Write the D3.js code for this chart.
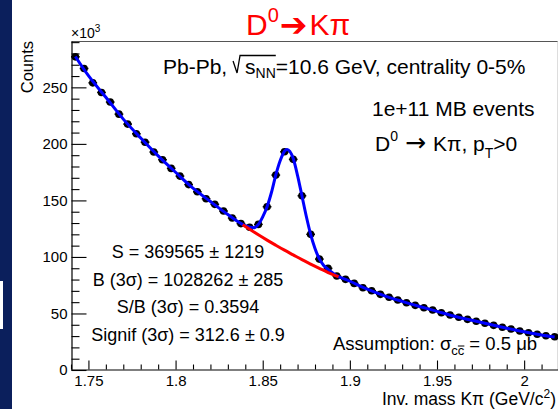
<!DOCTYPE html>
<html><head><meta charset="utf-8">
<script src="https://cdn.jsdelivr.net/npm/d3@7/dist/d3.min.js"></script>
<style>
body{margin:0;background:#fff;}
svg{display:block;}
text{font-family:"Liberation Sans", Arial, Helvetica, sans-serif;white-space:pre;}
</style>
</head><body>
<svg id="c" width="558" height="409"></svg>
<script>
// ---------- data (counts in units of 10^3) ----------
const massBins = [1.7425,1.7475,1.7525,1.7575,1.7625,1.7675,1.7725,1.7775,1.7825,1.7875,
  1.7925,1.7975,1.8025,1.8075,1.8125,1.8175,1.8225,1.8275,1.8325,1.8375,
  1.8425,1.8475,1.8525,1.8575,1.8625,1.8675,1.8725,1.8775,1.8825,1.8875,
  1.8925,1.8975,1.9025,1.9075,1.9125,1.9175,1.9225,1.9275,1.9325,1.9375,
  1.9425,1.9475,1.9525,1.9575,1.9625,1.9675,1.9725,1.9775,1.9825,1.9875,
  1.9925,1.9975,2.0025,2.0075,2.0125,2.0175];
const counts = [277.0,266.7,254.0,245.5,237.0,226.3,217.5,208.9,201.5,192.8,
  186.0,178.3,171.5,164.0,157.6,151.5,146.5,140.6,134.4,129.5,
  126.2,128.8,144.4,172.4,193.0,186.3,154.1,120.0,98.1,89.9,
  83.1,80.2,76.6,72.8,70.1,66.9,64.3,61.9,59.5,57.2,
  55.1,53.1,50.7,48.6,46.6,44.8,43.1,41.3,39.5,37.8,
  36.3,34.5,33.0,31.6,30.3,29.4];
// total fit (blue)
const fitMass = [1.7425,1.75,1.76,1.77,1.78,1.79,1.80,1.81,1.82,1.83,1.835,1.84,1.845,1.8475,1.85,1.8525,1.855,1.8575,1.86,1.8625,1.864,1.8675,1.87,1.8725,1.875,1.8775,1.88,1.8825,1.885,1.8875,1.89,1.8925,1.8975,1.90,1.91,1.92,1.93,1.94,1.95,1.96,1.97,1.98,1.99,2.00,2.01,2.0175];
const fitCounts = [277.3,260.3,241.2,221.9,205.2,189.4,174.9,160.8,149.0,137.5,132.0,127.6,125.8,128.8,135.5,144.4,157.0,172.4,185.0,193.5,195.0,187.0,172.0,154.1,136.0,120.0,107.5,98.3,92.5,89.0,86.0,83.3,80.2,78.5,71.5,65.6,60.7,56.2,51.9,47.6,44.0,40.4,37.0,33.8,31.0,29.2];
// background fit (red)
const bkgMass = [1.8385,1.8425,1.8475,1.8525,1.8575,1.8625,1.8675,1.8725,1.8775,1.8825,1.8875,1.8935];
const bkgCounts = [128.5,124.5,119.6,114.9,110.4,106.0,101.8,97.6,93.7,89.9,86.2,82.5];
const xTicks = [1.75,1.8,1.85,1.9,1.95,2.0];
const xTickLabels = ["1.75","1.8","1.85","1.9","1.95","2"];
const yTicks = [0,50,100,150,200,250];
const yTickLabels = ["0","50","100","150","200","250"];
const xMinor = [1.74,1.76,1.77,1.78,1.79,1.81,1.82,1.83,1.84,1.86,1.87,1.88,1.89,1.91,1.92,1.93,1.94,1.96,1.97,1.98,1.99,2.01,2.02];
const yMinor = [10,20,30,40,60,70,80,90,110,120,130,140,160,170,180,190,210,220,230,240,260,270,280,290];
const statLines = ["S = 369565 \u00B1 1219","B (3\u03C3) = 1028262 \u00B1 285","S/B (3\u03C3) = 0.3594","Signif (3\u03C3) = 312.6 \u00B1 0.9"];

// ---------- drawing ----------
const svg = d3.select("#c");
const W = 558, H = 409;
const x = d3.scaleLinear().domain([1.74, 2.02]).range([71, 559]);
const y = d3.scaleLinear().domain([0, 291]).range([370, 41]);

svg.append("rect").attr("width", W).attr("height", H).attr("fill", "#fff");
svg.append("rect").attr("x", 0).attr("y", 0).attr("width", 12).attr("height", H).attr("fill", "#0b1f5c");
svg.append("rect").attr("x", 0).attr("y", 281).attr("width", 3).attr("height", 48).attr("fill", "#fff");

// frame
svg.append("line").attr("x1", 71.5).attr("x2", W).attr("y1", 41.5).attr("y2", 41.5).attr("stroke", "#555").attr("stroke-width", 1);
svg.append("line").attr("x1", 557.5).attr("x2", 557.5).attr("y1", 41.5).attr("y2", 370).attr("stroke", "#ddd").attr("stroke-width", 1);

function styleAxis(g) {
  g.selectAll("path.domain").attr("stroke", "#000").attr("stroke-width", 1.2);
  g.selectAll(".tick line").attr("stroke", "#000").attr("stroke-width", 1.1);
  g.selectAll(".tick text").attr("font-family", '"Liberation Sans", Arial, sans-serif').attr("font-size", 15).style("fill", "#000");
}
// y axis
const gyMinor = svg.append("g").attr("transform", "translate(71.5,0)")
  .call(d3.axisLeft(y).tickValues(yMinor).tickSize(-8).tickSizeOuter(0).tickFormat(""));
gyMinor.select("path.domain").remove();
styleAxis(gyMinor);
const gy = svg.append("g").attr("transform", "translate(71.5,0)")
  .call(d3.axisLeft(y).tickValues(yTicks).tickSize(-15).tickSizeOuter(0).tickPadding(4)
    .tickFormat((d, i) => yTickLabels[i]));
styleAxis(gy);
// x axis
const gxMinor = svg.append("g").attr("transform", "translate(0,369.5)")
  .call(d3.axisBottom(x).tickValues(xMinor).tickSize(-5).tickSizeOuter(0).tickFormat(""));
gxMinor.select("path.domain").remove();
styleAxis(gxMinor);
const gx = svg.append("g").attr("transform", "translate(0,369.5)")
  .call(d3.axisBottom(x).tickValues(xTicks).tickSize(-9).tickSizeOuter(0).tickPadding(6)
    .tickFormat((d, i) => xTickLabels[i]));
styleAxis(gx);

// data points with x error bars
const pts = svg.append("g");
const half = 0.0025;
pts.selectAll("line.err").data(massBins).join("line").attr("class", "err")
  .attr("x1", (d) => x(d - half)).attr("x2", (d) => x(d + half))
  .attr("y1", (d, i) => y(counts[i])).attr("y2", (d, i) => y(counts[i]))
  .attr("stroke", "#000").attr("stroke-width", 1.5);
pts.selectAll("circle").data(massBins).join("circle")
  .attr("cx", (d) => x(d)).attr("cy", (d, i) => y(counts[i])).attr("r", 3.8).attr("fill", "#000");

// fits
const line = d3.line().x((d) => x(d[0])).y((d) => y(d[1])).curve(d3.curveMonotoneX);
svg.append("path").datum(fitMass.map((m, i) => [m, fitCounts[i]])).attr("d", line)
  .attr("fill", "none").attr("stroke", "#0000ff").attr("stroke-width", 3);
svg.append("path").datum(bkgMass.map((m, i) => [m, bkgCounts[i]])).attr("d", line)
  .attr("fill", "none").attr("stroke", "#ff0000").attr("stroke-width", 3);

// rich text helper
function rich(parent, x0, y0, parts, anchor) {
  const g = parent.append("g");
  let cx = 0; const placed = [];
  parts.forEach((p) => {
    const t = g.append("text").attr("x", cx).attr("y", p.dy || 0)
      .attr("font-size", p.s).style("fill", p.fill || "#000").text(p.t);
    if (p.w) t.attr("font-weight", p.w);
    if (p.f) t.style("font-family", p.f);
    const wdt = t.node().getComputedTextLength();
    placed.push({ x: cx, w: wdt, p });
    cx += wdt + (p.gap || 0);
  });
  let off = x0;
  if (anchor === "middle") off = x0 - cx / 2;
  if (anchor === "end") off = x0 - cx;
  g.attr("transform", `translate(${off},${y0})`);
  return { g, placed, off, width: cx };
}

// title
rich(svg, 246, 35, [
  { t: "D", s: 30, fill: "#ff0000" },
  { t: "0", s: 20, dy: -13, fill: "#ff0000", gap: 1 },
  { t: "\u2794", s: 33, dy: 1, fill: "#ff0000", f: '"DejaVu Sans", sans-serif', gap: 2 },
  { t: "K\u03C0", s: 30, fill: "#ff0000" }
]);

// x10^3
rich(svg, 71, 38, [{ t: "\u00D710", s: 14 }, { t: "3", s: 10, dy: -6 }]);

// line 1 with sqrt
const l1 = rich(svg, 163, 74, [
  { t: "Pb-Pb, ", s: 21, gap: 12 },
  { t: "s", s: 21 },
  { t: "NN", s: 14, dy: 4 },
  { t: "=10.6 GeV, centrality 0-5%", s: 21 }
]);
{
  const sx = l1.off + l1.placed[1].x; const ex = l1.off + l1.placed[2].x + l1.placed[2].w;
  svg.append("path").attr("d", `M${sx - 12},61 L${sx - 8},73 L${sx - 5},55.5 L${ex},55.5`)
    .attr("fill", "none").attr("stroke", "#000").attr("stroke-width", 1.3);
}
rich(svg, 372, 116, [{ t: "1e+11 MB events", s: 21 }]);
rich(svg, 375, 151, [
  { t: "D", s: 21 },
  { t: "0", s: 14, dy: -10, gap: 7 },
  { t: "\u2192", s: 25, f: '"DejaVu Sans", sans-serif', gap: 7 },
  { t: "K\u03C0, p", s: 21 },
  { t: "T", s: 14, dy: 7 },
  { t: ">0", s: 21 }
]);

// stats box text
statLines.forEach((s, i) => {
  svg.append("text").attr("x", 188).attr("y", 258 + i * 27.5).attr("text-anchor", "middle")
    .attr("font-size", 18).style("fill", "#000").text(s);
});

// assumption
const as = rich(svg, 333, 350, [
  { t: "Assumption: \u03C3", s: 18.5 },
  { t: "c", s: 13, dy: 5 },
  { t: "c", s: 13, dy: 5, gap: 5 },
  { t: "= 0.5 \u03BCb", s: 18.5 }
]);
{
  const p = as.placed[2];
  svg.append("line").attr("x1", as.off + p.x).attr("x2", as.off + p.x + p.w)
    .attr("y1", 346).attr("y2", 346).attr("stroke", "#000").attr("stroke-width", 1);
}

// axis titles
rich(svg, 556, 405, [
  { t: "Inv. mass K\u03C0 (GeV/c", s: 17.5 },
  { t: "2", s: 12, dy: -7 },
  { t: ")", s: 17.5 }
], "end");
svg.append("text").attr("transform", "translate(33,41) rotate(-90)").attr("text-anchor", "end")
  .attr("font-size", 16.5).style("fill", "#000").text("Counts");
</script>
</body></html>
